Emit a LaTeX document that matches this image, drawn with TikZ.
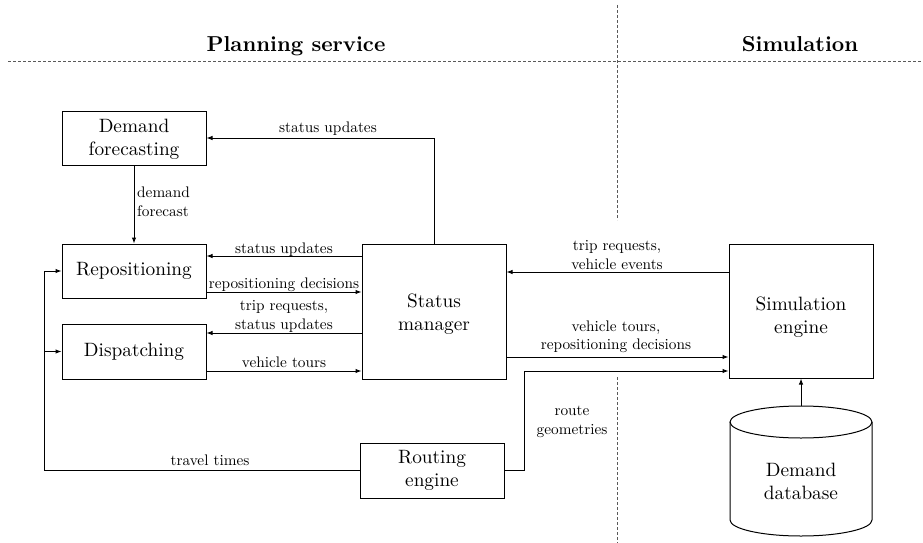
\documentclass[tikz,border=0pt]{standalone}
\usepackage{fontspec}
\setmainfont{lmroman10-regular}[Extension=.otf, BoldFont=lmroman10-bold]
\usetikzlibrary{arrows.meta}
\begin{document}
\begin{tikzpicture}[x=1pt,y=-1pt,
  box/.style={draw, line width=1pt, minimum width=144pt, inner sep=0pt, align=center, font=\fontsize{19.3}{23}\selectfont},
  lbl/.style={inner sep=0pt, align=center, font=\fontsize{15.3}{18.5}\selectfont},
  hdr/.style={inner sep=0pt, font=\bfseries\fontsize{21.6}{26}\selectfont},
  arr/.style={line width=1pt, -{Latex[length=6pt,width=4.5pt]}},
  sep/.style={gray!70!black, line width=1pt, dash pattern=on 3pt off 2pt}]
\useasboundingbox (0,0) rectangle (923,543);

% separators
\coordinate (h1) at (8,62);
\coordinate (h2) at (923,62);
\coordinate (v1) at (617,5);
\coordinate (v2) at (617,220);
\coordinate (v3) at (617,377);
\coordinate (v4) at (617,543);
\draw[sep] (h1) -- (h2);
\draw[sep] (v1) -- (v2);
\draw[sep] (v3) -- (v4);

\node[hdr, anchor=base] (hps) at (296,52) {Planning service};
\node[hdr, anchor=base] (hsim) at (800,52) {Simulation};

% boxes
\node[box, minimum height=54pt] (df) at (134,138) {\rule{0pt}{16pt}Demand\\forecasting};
\node[box, minimum height=54pt] (rep) at (134,271) {Repositioning};
\node[box, minimum height=55pt] (dis) at (134,351.5) {Dispatching};
\node[box, minimum height=135pt] (sm) at (434,311.5) {\rule{0pt}{18pt}Status\\manager};
\node[box, minimum height=55pt] (rt) at (432,470.5) {Routing\\engine};
\node[box, minimum height=134pt] (sim) at (801,311) {\rule{0pt}{25pt}Simulation\\engine};

% database cylinder
\draw[line width=1pt] (801,422) ellipse [x radius=71pt, y radius=16pt];
\draw[line width=1pt] (730,422) -- (730,520) arc[start angle=180, end angle=360, x radius=71pt, y radius=16pt] -- (872,422);
\node[inner sep=0pt, align=center, font=\fontsize{19.3}{23}\selectfont] (db) at (801,481) {Demand\\database};
\coordinate (dbtop) at (801,406);

% helper rows/columns
\coordinate (r1) at (0,256);
\coordinate (r2) at (0,292);
\coordinate (r3) at (0,333);
\coordinate (r4) at (0,371);
\coordinate (r5) at (0,272);
\coordinate (r6) at (0,357);
\coordinate (lx) at (44,0);
\coordinate (rx) at (524,0);

% connectors
\draw[arr] (sm.north) |- (df.east);
\draw[arr] (df.south) -- (rep.north);
\draw[arr] (sm.west |- r1) -- (rep.east |- r1);
\draw[arr] (rep.east |- r2) -- (sm.west |- r2);
\draw[arr] (sm.west |- r3) -- (dis.east |- r3);
\draw[arr] (dis.east |- r4) -- (sm.west |- r4);
\draw[arr] (rt.west) -| (lx |- rep.west) -- (rep.west);
\draw[arr] (lx |- dis.west) -- (dis.west);
\draw[arr] (sim.west |- r5) -- (sm.east |- r5);
\draw[arr] (sm.east |- r6) -- (sim.west |- r6);
\draw[arr] (rt.east) -| (rx |- r4) -- (sim.west |- r4);
\draw[arr] (dbtop) -- (sim.south);

% labels
\node[lbl, anchor=base] (l1) at (328,132) {status updates};
\node[lbl, anchor=west, align=left] (l2) at (137,202) {demand\\forecast};
\node[lbl, anchor=base] (l3) at (284,253) {status updates};
\node[lbl, anchor=base] (l4) at (284,288) {repositioning decisions};
\node[lbl] (l5) at (284,316.5) {trip requests,\\status updates};
\node[lbl, anchor=base] (l6) at (284,367) {vehicle tours};
\node[lbl, anchor=base] (l7) at (210,465) {travel times};
\node[lbl] (l8) at (617,255) {trip requests,\\vehicle events};
\node[lbl] (l9) at (616,337) {vehicle tours,\\repositioning decisions};
\node[lbl] (l10) at (572,422) {route\\geometries};
\end{tikzpicture}
\end{document}
